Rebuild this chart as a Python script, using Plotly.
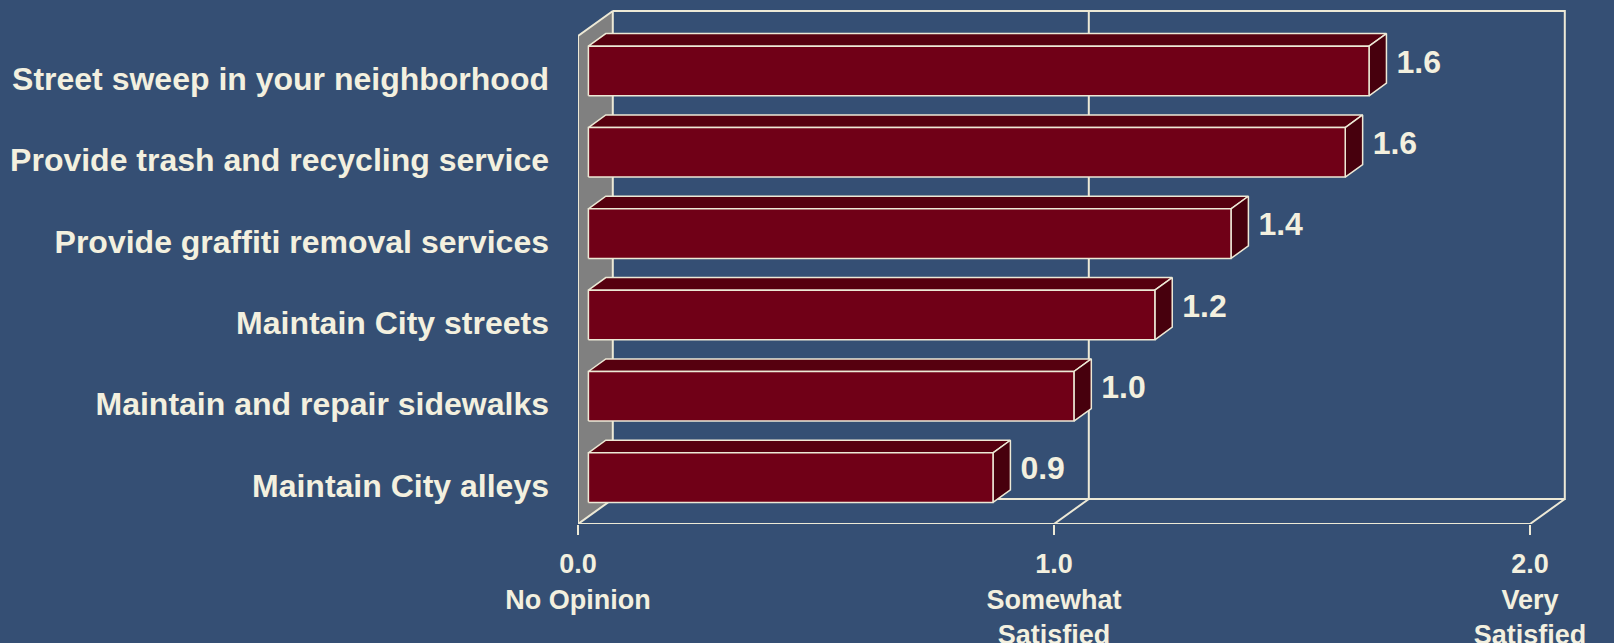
import plotly.graph_objects as go

# ---------------- data ----------------
categories = [
    "Maintain City alleys",
    "Maintain and repair sidewalks",
    "Maintain City streets",
    "Provide graffiti removal services",
    "Provide trash and recycling service",
    "Street sweep in your neighborhood",
]
values = [0.85, 1.02, 1.19, 1.35, 1.59, 1.64]
value_labels = ["0.9", "1.0", "1.2", "1.4", "1.6", "1.6"]
x_tick_vals = [0, 1, 2]
x_tick_text = ["0.0<br>No Opinion", "1.0<br>Somewhat<br>Satisfied", "2.0<br>Very<br>Satisfied"]

# ---------------- style / geometry ----------------
W, H = 1614, 643
M_L, M_B = 578, 119
PX_X = 476.0          # pixels per x unit
PX_Y = 81.33          # pixels per category
X_MAX = 2.0
N = len(categories)

WALL_DX, WALL_DY = 34.8 / PX_X, 25.0 / PX_Y
BAR_OX, BAR_OY = 10.4 / PX_X, 5.7 / PX_Y
BAR_DX, BAR_DY = 17.4 / PX_X, 12.6 / PX_Y
BAR_HALF = 24.8 / PX_Y
LABEL_GAP = 10.0 / PX_X

BG = "#354F74"
CREAM = "#EDE9D6"
TXT = "#F3F0DF"
WALL_GRAY = "#808080"
FRONT = "#700017"
TOP = "#56000F"
SIDE = "#47000D"
FONT = "Liberation Sans, Arial, sans-serif"

x_range = [0, (W - M_L) / PX_X]
y_range = [0, (H - M_B) / PX_Y]

fig = go.Figure()

# back wall outline, floor and gridline at 1.0
wx, wy = [], []
def seg(xs, ys):
    wx.extend(list(xs) + [None]); wy.extend(list(ys) + [None])
seg([WALL_DX, X_MAX + WALL_DX, X_MAX + WALL_DX, WALL_DX],
    [N + WALL_DY, N + WALL_DY, WALL_DY, WALL_DY])
seg([0, X_MAX, X_MAX + WALL_DX], [0, 0, WALL_DY])
for gv in x_tick_vals[1:-1]:
    seg([gv, gv + WALL_DX, gv + WALL_DX], [0, WALL_DY, N + WALL_DY])
fig.add_trace(go.Scatter(x=wx, y=wy, mode="lines", line=dict(color=CREAM, width=2),
                         hoverinfo="skip"))

# left gray wall
fig.add_trace(go.Scatter(x=[0, 0, WALL_DX, WALL_DX, 0], y=[0, N, N + WALL_DY, WALL_DY, 0],
                         mode="lines", fill="toself", fillcolor=WALL_GRAY,
                         line=dict(color=CREAM, width=2), hoverinfo="skip"))

# bars
tx, ty, sx, sy, fx, fy = [], [], [], [], [], []
lx, ly = [], []
for i, v in enumerate(values):
    c = i + 0.5 + BAR_OY
    x0, x1 = BAR_OX, BAR_OX + v
    y0, y1 = c - BAR_HALF, c + BAR_HALF
    tx += [x0, x1, x1 + BAR_DX, x0 + BAR_DX, x0, None]
    ty += [y1, y1, y1 + BAR_DY, y1 + BAR_DY, y1, None]
    sx += [x1, x1 + BAR_DX, x1 + BAR_DX, x1, x1, None]
    sy += [y0, y0 + BAR_DY, y1 + BAR_DY, y1, y0, None]
    fx += [x0, x1, x1, x0, x0, None]
    fy += [y0, y0, y1, y1, y0, None]
    lx.append(x1 + BAR_DX + LABEL_GAP)
    ly.append(c + BAR_DY / 2)

for xs, ys, col in [(tx, ty, TOP), (sx, sy, SIDE), (fx, fy, FRONT)]:
    fig.add_trace(go.Scatter(x=xs, y=ys, mode="lines", fill="toself", fillcolor=col,
                             line=dict(color=CREAM, width=1.5), hoverinfo="skip"))

fig.add_trace(go.Scatter(x=lx, y=ly, mode="text", text=value_labels,
                         textposition="middle right",
                         textfont=dict(family=FONT, size=32, color=TXT, weight="bold"),
                         hoverinfo="skip", cliponaxis=False))

fig.update_layout(
    width=W, height=H,
    margin=dict(l=M_L, r=0, t=0, b=M_B, pad=0, autoexpand=False),
    paper_bgcolor=BG, plot_bgcolor=BG,
    showlegend=False,
    xaxis=dict(range=x_range, tickmode="array", tickvals=x_tick_vals, ticktext=x_tick_text,
               ticks="outside", ticklen=10, tickwidth=2, tickcolor=CREAM,
               showgrid=False, zeroline=False, showline=False, automargin=False,
               tickfont=dict(family=FONT, size=27, color=TXT, weight="bold"),
               ticklabelstandoff=6, fixedrange=True),
    yaxis=dict(range=y_range, tickmode="array", tickvals=[i + 0.5 for i in range(N)],
               ticktext=categories, ticks="", showgrid=False, zeroline=False, showline=False,
               automargin=False,
               tickfont=dict(family=FONT, size=32, color=TXT, weight="bold"),
               ticklabelstandoff=28, ticklabelshift=2, fixedrange=True),
    yaxis2=dict(range=y_range, overlaying="y", side="left", anchor="x",
                tickmode="array", tickvals=list(range(N + 1)), ticks="outside",
                ticklen=10, tickwidth=2, tickcolor=CREAM, showticklabels=False,
                showgrid=False, zeroline=False, showline=False, automargin=False,
                fixedrange=True),
)

fig.write_html("out.html", config={"displayModeBar": False},
               post_script="document.body.style.margin='0';document.body.style.padding='0';")
